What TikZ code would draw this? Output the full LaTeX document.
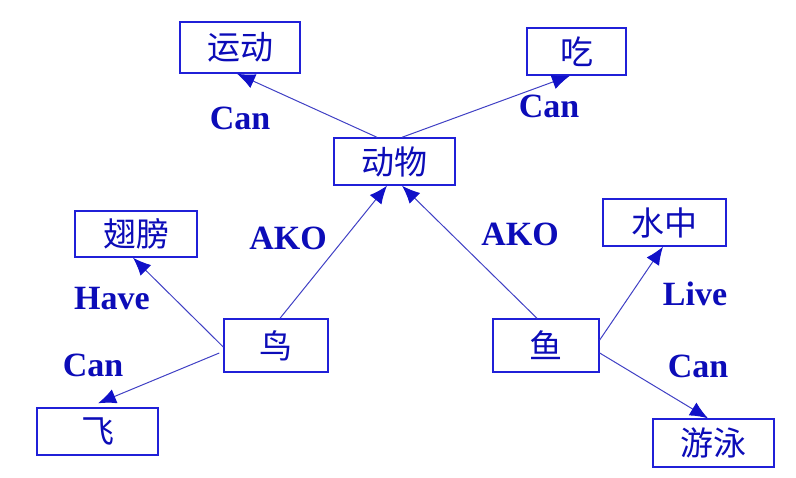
\documentclass[tikz,border=0pt]{standalone}
\usepackage{fontspec}
\setmainfont{Liberation Serif}
\newfontfamily\cjk{Noto Sans CJK SC}
\usetikzlibrary{arrows.meta}
\definecolor{txtblue}{HTML}{0C0CB8}
\definecolor{boxblue}{HTML}{2020D8}
\definecolor{lineblue}{HTML}{4040C4}
\definecolor{tipblue}{HTML}{1010C8}
\tikzset{
  box/.style={draw=boxblue, line width=1.4pt, fill=white, inner sep=0pt, text=txtblue,
    font=\cjk\fontsize{33}{33}\selectfont},
  rel/.style={text=txtblue, font=\bfseries\fontsize{34}{34}\selectfont, inner sep=0pt},
  link/.style={draw=lineblue, line width=1pt, -{Latex[length=18pt,width=15pt,color=tipblue]}},
}
\begin{document}
\begin{tikzpicture}[x=1pt,y=1pt]
\useasboundingbox (0,0) rectangle (796,-478);
% nodes
\node[box, minimum width=120pt, minimum height=51pt] (yd) at (240,-47.5) {运动};
\node[box, minimum width=121pt, minimum height=47pt] (dw) at (394.5,-161.5) {动物};
\node[box, minimum width=99pt, minimum height=47pt] (chi) at (576.5,-51.5) {吃};
\node[box, minimum width=122pt, minimum height=46pt] (cb) at (136,-234) {翅膀};
\node[box, minimum width=104pt, minimum height=53pt] (niao) at (276,-345.5) {鸟};
\node[box, minimum width=121pt, minimum height=47pt] (fei) at (97.5,-431.5) {飞};
\node[box, minimum width=123pt, minimum height=47pt] (sz) at (664.5,-222.5) {水中};
\node[box, minimum width=106pt, minimum height=53pt] (yu) at (546,-345.5) {鱼};
\node[box, minimum width=121pt, minimum height=48pt] (yy) at (713.5,-443) {游泳};
% labels
\node[rel] (l1) at (240,-118) {Can};
\node[rel] (l2) at (549,-106) {Can};
\node[rel] (l3) at (288,-238) {AKO};
\node[rel] (l4) at (520,-234) {AKO};
\node[rel] (l5) at (112,-299) {Have};
\node[rel] (l6) at (93,-365) {Can};
\node[rel] (l7) at (695,-294) {Live};
\node[rel] (l8) at (698,-366) {Can};
% connectors
\draw[link] ([xshift=-17.5pt]dw.north) -- ([xshift=-3pt]yd.south);
\draw[link] ([xshift=7.5pt]dw.north) -- ([xshift=-6.5pt]chi.south);
\draw[link] ([xshift=4pt]niao.north) -- ([xshift=-7.5pt]dw.south);
\draw[link] ([xshift=-9pt]yu.north) -- ([xshift=7.5pt]dw.south);
\draw[link] ([yshift=-1.5pt]niao.west) -- ([xshift=-3pt]cb.south);
\draw[link] ([shift={(-4pt,-7.5pt)}]niao.west) -- ([shift={(0.5pt,4pt)}]fei.north);
\draw[link] ([yshift=5.5pt]yu.east) -- ([xshift=-1.5pt]sz.south);
\draw[link] ([yshift=-7.5pt]yu.east) -- ([xshift=-5.5pt]yy.north);
\end{tikzpicture}
\end{document}
